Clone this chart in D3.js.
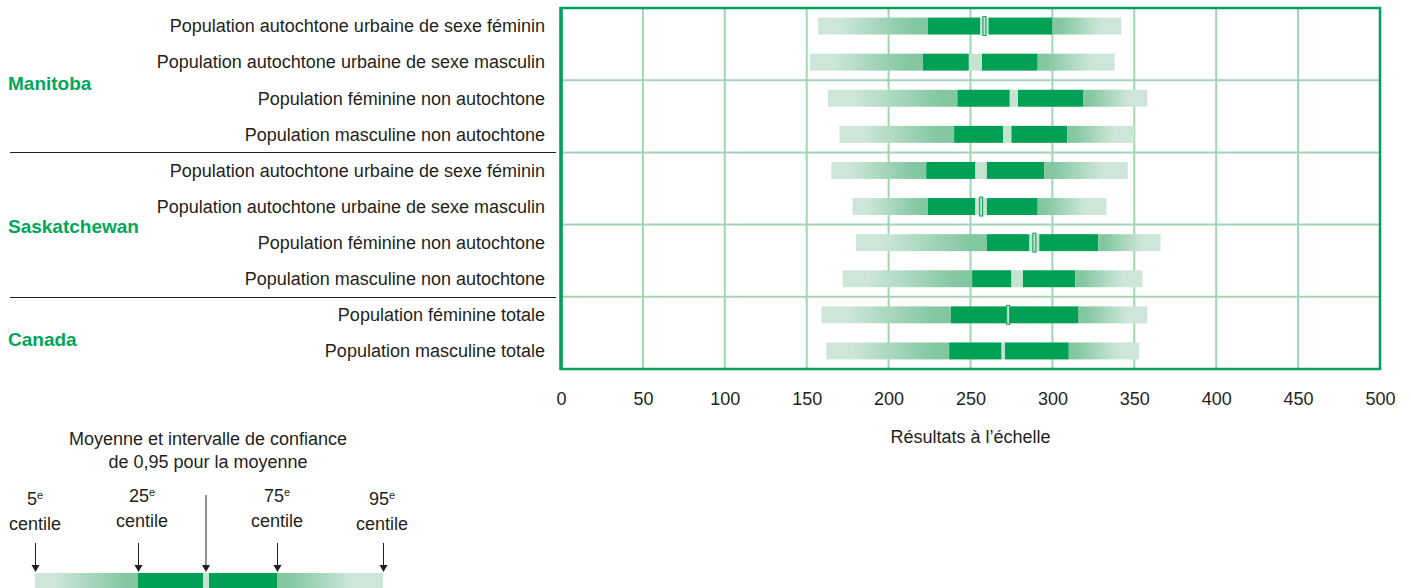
<!DOCTYPE html>
<html><head><meta charset="utf-8">
<script src="https://cdn.jsdelivr.net/npm/d3@7"></script>
<style>
body{margin:0;background:#fff;}
text{font-family:"Liberation Sans Narrow","Arial Narrow","Liberation Sans",sans-serif;fill:#231f20;}
</style></head><body>
<svg id="chart" width="1411" height="588"></svg>
<script>
const categories = [
  "Population autochtone urbaine de sexe féminin",
  "Population autochtone urbaine de sexe masculin",
  "Population féminine non autochtone",
  "Population masculine non autochtone",
  "Population autochtone urbaine de sexe féminin",
  "Population autochtone urbaine de sexe masculin",
  "Population féminine non autochtone",
  "Population masculine non autochtone",
  "Population féminine totale",
  "Population masculine totale"
];
const groups = ["Manitoba", "Saskatchewan", "Canada"];
const groupRows = [4, 4, 2];
const p5     = [157, 152, 163, 170, 165, 178, 180, 172, 159, 162];
const p25    = [224, 221, 242, 240, 223, 224, 260, 251, 238, 237];
const ciLow  = [256, 249, 274, 270, 253, 253, 286, 275, 272, 269];
const ciHigh = [261, 257, 279, 275, 260, 260, 292, 282, 274, 271];
const p75    = [300, 291, 319, 309, 295, 291, 328, 314, 316, 310];
const p95    = [342, 338, 358, 350, 346, 333, 366, 355, 358, 353];
const meanMarkedRows = [0, 5, 6, 8];
const xTicks = [0, 50, 100, 150, 200, 250, 300, 350, 400, 450, 500];
const xTitle = "Résultats à l’échelle";
const legendTitle = ["Moyenne et intervalle de confiance", "de 0,95 pour la moyenne"];
const legendCentiles = ["5", "25", "75", "95"];

const DARK = "#00a055", MED = "#82c7a0", LIGHT = "#cde6d9", CI = "#c4e3d1", GRID = "#a2d4b6", BORDER = "#00a05a", GREEN_TXT = "#00a65a";

const svg = d3.select("#chart");
const defs = svg.append("defs");
const gl = defs.append("linearGradient").attr("id", "gl");
gl.append("stop").attr("offset", "0%").attr("stop-color", LIGHT);
gl.append("stop").attr("offset", "20%").attr("stop-color", LIGHT);
gl.append("stop").attr("offset", "88%").attr("stop-color", MED);
gl.append("stop").attr("offset", "100%").attr("stop-color", MED);
const gr = defs.append("linearGradient").attr("id", "gr");
gr.append("stop").attr("offset", "0%").attr("stop-color", MED);
gr.append("stop").attr("offset", "10%").attr("stop-color", MED);
gr.append("stop").attr("offset", "70%").attr("stop-color", LIGHT);
gr.append("stop").attr("offset", "100%").attr("stop-color", LIGHT);

const pL = 561, pR = 1380, pT = 8, pB = 369;
const x = d3.scaleLinear().domain([0, 500]).range([pL, pR]);
const y = d3.scaleBand().domain(d3.range(categories.length)).range([pT, pB])
  .paddingInner(0.53).paddingOuter(0.265);
const step = y.step();

// grid
const g = svg.append("g");
g.selectAll(".vg").data(xTicks.slice(1, -1)).join("line")
  .attr("x1", d => x(d)).attr("x2", d => x(d)).attr("y1", pT).attr("y2", pB)
  .attr("stroke", GRID).attr("stroke-width", 2);
const hLines = [2, 4, 6, 8];
g.selectAll(".hg").data(hLines).join("line")
  .attr("x1", pL).attr("x2", pR)
  .attr("y1", d => pT + step * d).attr("y2", d => pT + step * d)
  .attr("stroke", GRID).attr("stroke-width", 2);

// bars
const rows = d3.range(categories.length);
const bh = y.bandwidth();
const bars = svg.append("g");
bars.selectAll(".l").data(rows).join("rect")
  .attr("x", i => x(p5[i])).attr("width", i => x(p25[i]) - x(p5[i]))
  .attr("y", i => y(i)).attr("height", bh).attr("fill", "url(#gl)");
bars.selectAll(".d1").data(rows).join("rect")
  .attr("x", i => x(p25[i])).attr("width", i => x(ciLow[i]) - x(p25[i]))
  .attr("y", i => y(i)).attr("height", bh).attr("fill", DARK);
bars.selectAll(".ci").data(rows).join("rect")
  .attr("x", i => x(ciLow[i])).attr("width", i => x(ciHigh[i]) - x(ciLow[i]))
  .attr("y", i => y(i)).attr("height", bh).attr("fill", CI);
bars.selectAll(".d2").data(rows).join("rect")
  .attr("x", i => x(ciHigh[i])).attr("width", i => x(p75[i]) - x(ciHigh[i]))
  .attr("y", i => y(i)).attr("height", bh).attr("fill", DARK);
bars.selectAll(".r").data(rows).join("rect")
  .attr("x", i => x(p75[i])).attr("width", i => x(p95[i]) - x(p75[i]))
  .attr("y", i => y(i)).attr("height", bh).attr("fill", "url(#gr)");
// mean markers
bars.selectAll(".m").data(meanMarkedRows).join("rect")
  .attr("x", i => x((ciLow[i] + ciHigh[i]) / 2) - 1.5).attr("width", 3)
  .attr("y", i => y(i) - 1).attr("height", bh + 2)
  .attr("fill", CI).attr("stroke", DARK).attr("stroke-width", 1);

// border
svg.append("rect").attr("x", pL).attr("y", pT).attr("width", pR - pL).attr("height", pB - pT)
  .attr("fill", "none").attr("stroke", BORDER).attr("stroke-width", 2.5);
svg.append("line").attr("x1", pL).attr("x2", pL).attr("y1", pT - 1).attr("y2", pB + 1)
  .attr("stroke", BORDER).attr("stroke-width", 3.5);

// axis labels
const ax = svg.append("g").attr("transform", `translate(0,${pB})`)
  .call(d3.axisBottom(x).tickValues(xTicks).tickSize(0).tickPadding(23));
ax.select(".domain").remove();
ax.selectAll("text").style("font-size", "18px").attr("font-family", null).attr("fill", "#231f20");
svg.append("text").attr("x", x(250)).attr("y", 443).attr("text-anchor", "middle")
  .style("font-size", "18px").text(xTitle);

// row labels
svg.append("g").selectAll("text").data(rows).join("text")
  .attr("x", 545).attr("y", i => y(i) + bh / 2).attr("dy", "0.35em")
  .attr("text-anchor", "end").style("font-size", "18px").text(i => categories[i]);

// group labels
let start = 0;
const gOff = [3, 2, 6];
groups.forEach((name, k) => {
  const n = groupRows[k];
  const cy = pT + step * (start + n / 2);
  svg.append("text").attr("x", 8).attr("y", cy + gOff[k]).attr("dy", "0.35em")
    .style("font-size", "19px").style("font-weight", "bold").style("fill", GREEN_TXT).text(name);
  start += n;
  if (k < groups.length - 1) {
    const ly = Math.round(pT + step * start) + 0.5;
    svg.append("line").attr("x1", 10).attr("x2", 556).attr("y1", ly).attr("y2", ly)
      .attr("stroke", "#231f20").attr("stroke-width", 1);
  }
});

// legend
const leg = svg.append("g");
leg.selectAll(".lt").data(legendTitle).join("text")
  .attr("x", 208).attr("y", (d, i) => 445 + i * 23).attr("text-anchor", "middle")
  .style("font-size", "18px").text(d => d);
const legBar = { p5: 35, p25: 138, lo: 203, hi: 209, p75: 277, p95: 383 };
const ly0 = 573, lh = 17;
leg.append("rect").attr("x", legBar.p5).attr("y", ly0).attr("width", legBar.p25 - legBar.p5).attr("height", lh).attr("fill", "url(#gl)");
leg.append("rect").attr("x", legBar.p25).attr("y", ly0).attr("width", legBar.lo - legBar.p25).attr("height", lh).attr("fill", DARK);
leg.append("rect").attr("x", legBar.lo).attr("y", ly0).attr("width", legBar.hi - legBar.lo).attr("height", lh).attr("fill", CI);
leg.append("rect").attr("x", legBar.hi).attr("y", ly0).attr("width", legBar.p75 - legBar.hi).attr("height", lh).attr("fill", DARK);
leg.append("rect").attr("x", legBar.p75).attr("y", ly0).attr("width", legBar.p95 - legBar.p75).attr("height", lh).attr("fill", "url(#gr)");

const arrowX = [legBar.p5, legBar.p25, legBar.p75, legBar.p95];
const labelX = [35, 142, 277, 382];
const labelTop = [505, 502, 502, 505];
arrowX.forEach((ax0, i) => {
  leg.append("line").attr("x1", ax0 + 0.5).attr("x2", ax0 + 0.5).attr("y1", 543).attr("y2", 566)
    .attr("stroke", "#231f20").attr("stroke-width", 1);
  leg.append("path").attr("d", `M${ax0 - 3.5},${565} L${ax0 + 4.5},${565} L${ax0 + 0.5},${572} Z`).attr("fill", "#231f20");
  const t = leg.append("text").attr("x", labelX[i]).attr("y", labelTop[i]).attr("text-anchor", "middle").style("font-size", "18px");
  t.append("tspan").text(legendCentiles[i]);
  t.append("tspan").attr("dy", "-6").style("font-size", "11px").text("e");
  leg.append("text").attr("x", labelX[i]).attr("y", labelTop[i] + 25).attr("text-anchor", "middle")
    .style("font-size", "18px").text("centile");
});
const mx = (legBar.lo + legBar.hi) / 2;
leg.append("line").attr("x1", mx).attr("x2", mx).attr("y1", 495).attr("y2", 566).attr("stroke", "#231f20").attr("stroke-width", 1);
leg.append("path").attr("d", `M${mx - 4},${565} L${mx + 4},${565} L${mx},${572} Z`).attr("fill", "#231f20");
</script></body></html>
